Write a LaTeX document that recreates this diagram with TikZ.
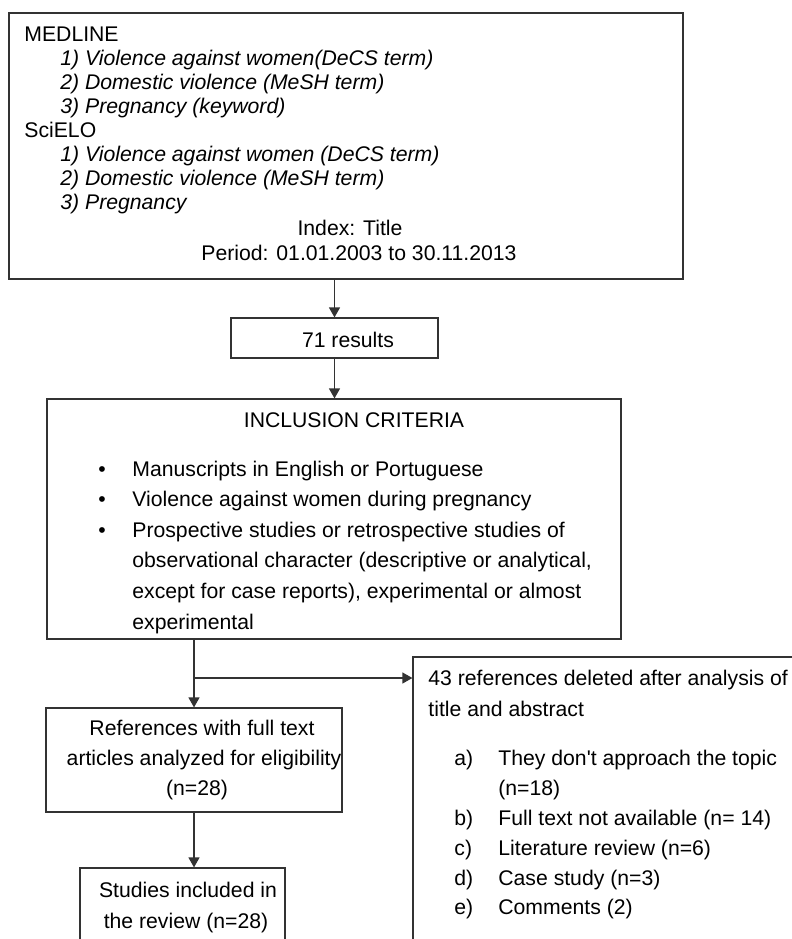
\documentclass[tikz,border=0pt]{standalone}
\usepackage{fontspec}
\setmainfont{Liberation Sans}
\usetikzlibrary{positioning, arrows.meta, fit, calc}

\begin{document}
\begin{tikzpicture}[x=0.5pt, y=-0.5pt,
    every node/.style={font=\fontsize{10.6}{12}\selectfont},
    box/.style={draw=black!80, line width=0.6pt, inner sep=0pt},
    txt/.style={anchor=base west, inner sep=0pt},
    term/.style={txt, font=\fontsize{10.6}{12}\selectfont\itshape},
    ctxt/.style={anchor=base, inner sep=0pt},
    flow/.style={draw=black!80, line width=0.6pt, -{Triangle[length=5pt, width=5.5pt]}}]
  \clip (0,0) rectangle (792,939);

  % Boxes
  \node[box, fit={(9,13) (683,279)}] (search) {};
  \node[box, fit={(231,318) (438,358)}] (results) {};
  \node[box, fit={(47,399) (621,639)}] (criteria) {};
  \node[box, fit={(46,708) (342,812)}] (fulltext) {};
  \node[box, fit={(80,868) (285,970)}] (included) {};
  \node[box, fit={(413,657) (820,970)}] (deleted) {};

  % Search strategy
  \node[txt] (medline) at (24,41) {MEDLINE};
  \foreach \t [count=\i] in {1) Violence against women(DeCS term),
      2) Domestic violence (MeSH term), 3) Pregnancy (keyword)}
    \node[term] (med\i) at (60,41+24.3*\i) {\t};
  \node[txt] (scielo) at (24,137) {SciELO};
  \foreach \t [count=\i] in {1) Violence against women (DeCS term),
      2) Domestic violence (MeSH term), 3) Pregnancy}
    \node[term] (sci\i) at (60,137+24.3*\i) {\t};
  \node[ctxt] (index) at (350,235) {Index: Title};
  \node[ctxt] (period) at (359,260) {Period: 01.01.2003 to 30.11.2013};

  \node[ctxt] (count) at (348,347) {71 results};

  % Inclusion criteria
  \node[ctxt] (crithead) at (354,427) {INCLUSION CRITERIA};
  \foreach \k in {0,1,2}
    \node[ctxt] (dot\k) at (102,476+30.6*\k) {•};
  \foreach \t [count=\i from 0] in {{Manuscripts in English or Portuguese},
      {Violence against women during pregnancy},
      {Prospective studies or retrospective studies of},
      {observational character (descriptive or analytical,},
      {except for case reports), experimental or almost},
      {experimental}}
    \node[txt] (crit\i) at (132,476+30.6*\i) {\t};

  % Full text and included
  \node[ctxt] (ft1) at (202,735) {References with full text};
  \node[ctxt] (ft2) at (204,765) {articles analyzed for eligibility};
  \node[ctxt] (ft3) at (197,795) {(n=28)};
  \node[ctxt] (inc1) at (188,897) {Studies included in};
  \node[ctxt] (inc2) at (186,928) {the review (n=28)};

  % Deleted references
  \node[txt] (del1) at (428,685) {43 references deleted after analysis of};
  \node[txt] (del2) at (428,716) {title and abstract};
  \foreach \l/\t/\y in {a)/{They don\textquotesingle t approach the topic}/765,
      /{(n=18)}/795, b)/{Full text not available (n= 14)}/825,
      c)/{Literature review (n=6)}/855, d)/{Case study (n=3)}/885,
      e)/{Comments (2)}/914}{
    \node[txt] (lab\y) at (454,\y) {\l};
    \node[txt] (why\y) at (498,\y) {\t};
  }

  % Connectors
  \coordinate (split) at (194,678);
  \draw[flow] (results.north |- search.south) -- (results.north);
  \draw[flow] (results.south) -- (results.south |- criteria.north);
  \draw[flow] (fulltext.north |- criteria.south) -- (fulltext.north);
  \draw[flow] (split) -- (split -| deleted.west);
  \draw[flow] (fulltext.south) -- (fulltext.south |- included.north);
\end{tikzpicture}
\end{document}
